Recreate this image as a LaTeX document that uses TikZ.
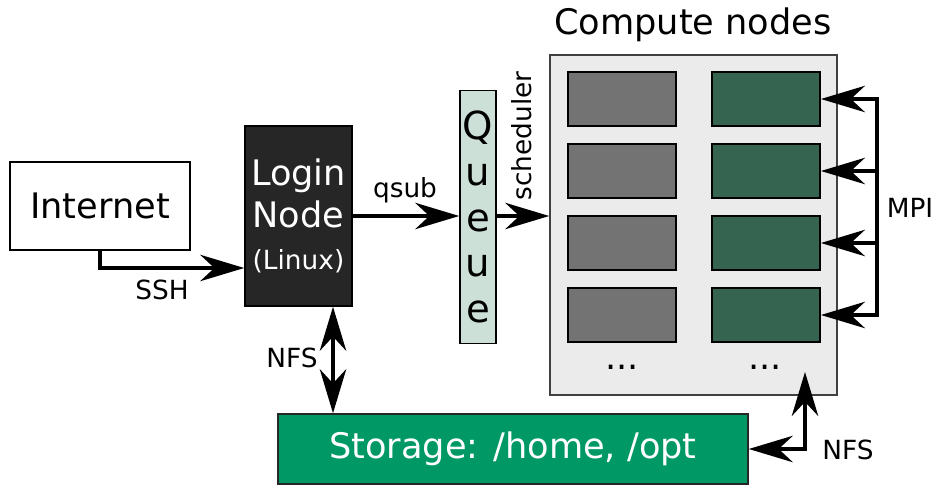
\documentclass[tikz,border=0pt]{standalone}
\usepackage{fontspec}
\setmainfont{DejaVu Sans}
\usetikzlibrary{arrows.meta,positioning,calc}

\definecolor{logingray}{HTML}{262626}
\definecolor{queuegreen}{HTML}{CCE0D8}
\definecolor{clusterbg}{HTML}{EBEBEB}
\definecolor{cpugray}{HTML}{737373}
\definecolor{cpugreen}{HTML}{356451}
\definecolor{storagegreen}{HTML}{009966}

\begin{document}
\begin{tikzpicture}[
    >={Stealth[length=25pt,width=15pt,inset=8pt]},
    box/.style={draw, line width=0.9pt, inner sep=0pt},
    cpu/.style={draw, line width=1.1pt, minimum width=2.16cm, minimum height=1.08cm},
    link/.style={line width=2.2pt},
    bigtext/.style={font=\fontsize{20}{24}\selectfont},
    smalltext/.style={font=\fontsize{15}{18}\selectfont}
  ]
    \useasboundingbox (0,0) rectangle (18.72,9.72);

    % Internet and login node
    \node[box, bigtext, fill=white, minimum width=3.6cm, minimum height=1.76cm] (internet) at (2.0,5.6) {Internet};
    \node[box, bigtext, fill=logingray, text=white, align=center, minimum width=2.14cm, minimum height=3.6cm] (login) at (5.97,5.4)
      {Login\\Node\\{\fontsize{15}{18}\selectfont(Linux)}};

    % Queue
    \node[box, fill=queuegreen, align=center, minimum width=0.72cm, minimum height=5.06cm,
      font=\fontsize{22}{26}\selectfont] (queue) at (9.56,5.38) {Q\\u\\e\\u\\e};

    % Compute nodes
    \node[bigtext] (title) at (13.86,9.22) {Compute nodes};
    \node[box, draw=black!75, fill=clusterbg, minimum width=5.74cm, minimum height=6.8cm] (compute) at (13.87,5.22) {};

    \node[cpu, fill=cpugray] (cpu1) at (12.44,7.74) {};
    \node[cpu, fill=cpugray] (cpu2) at (12.44,6.30) {};
    \node[cpu, fill=cpugray] (cpu3) at (12.44,4.86) {};
    \node[cpu, fill=cpugray] (cpu4) at (12.44,3.42) {};
    \node[bigtext] (dotsl) at (12.44,2.38) {...};

    \node[cpu, fill=cpugreen] (mpi1) at (15.32,7.74) {};
    \node[cpu, fill=cpugreen] (mpi2) at (15.32,6.30) {};
    \node[cpu, fill=cpugreen] (mpi3) at (15.32,4.86) {};
    \node[cpu, fill=cpugreen] (mpi4) at (15.32,3.42) {};
    \node[bigtext] (dotsr) at (15.30,2.38) {...};

    % Storage
    \node[box, bigtext, draw=black!85, fill=storagegreen, text=white, minimum width=9.4cm, minimum height=1.4cm] (storage) at (10.26,0.74)
      {Storage: /home, /opt};

    % connectors
    \draw[link, ->] (internet.south) |- ([yshift=-1.04cm]login.west);
    \node[smalltext] (ssh) at (3.24,3.92) {SSH};

    \draw[link, ->] (login.east) -- (login.east -| queue.west);
    \node[smalltext] (qsub) at (8.1,5.92) {qsub};

    \draw[link, ->] (login.east -| queue.east) -- (login.east -| compute.west);
    \node[smalltext, rotate=90] (sched) at (10.44,7.0) {scheduler};

    \draw[link, <->] ([xshift=0.69cm]login.south) -- ([xshift=0.69cm]login.south |- storage.north);
    \node[smalltext] (nfsl) at (5.84,2.56) {NFS};

    \coordinate (nfstop) at (16.1,2.28);
    \draw[link, <->] (storage.east) -| (nfstop);
    \node[smalltext] (nfsr) at (16.96,0.72) {NFS};

    % MPI bus
    \coordinate (bus) at (17.54,0);
    \draw[link, <->] (mpi1.east) -- (mpi1.east -| bus) -- (mpi4.east -| bus) -- (mpi4.east);
    \draw[link, ->] (mpi2.east -| bus) -- (mpi2.east);
    \draw[link, ->] (mpi3.east -| bus) -- (mpi3.east);
    \node[smalltext] (mpi) at (18.2,5.56) {MPI};
  \end{tikzpicture}
\end{document}
